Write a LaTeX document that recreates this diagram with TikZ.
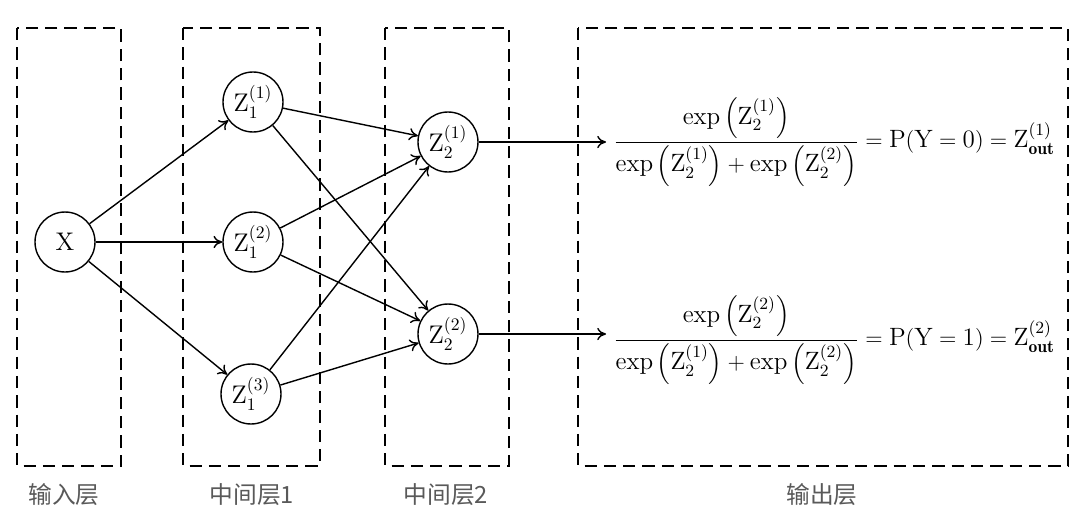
\documentclass[tikz,border=0pt]{standalone}
\usepackage{amsmath}
\usepackage{graphicx}
\usepackage{fontspec}
\newfontfamily\cjk{Noto Sans CJK SC}
\usetikzlibrary{arrows.meta}
\newcommand{\ex}[1]{\exp\,\Bigl(\mathrm{Z}_2^{(#1)}\Bigr)}
\tikzset{
  layerbox/.style={draw, line width=1.4pt, dash pattern=on 7pt off 4pt},
  neuron/.style={draw, circle, line width=0.8pt, minimum size=1.2cm, inner sep=0pt, font=\fontsize{14.5}{17}\selectfont},
  conn/.style={line width=0.8pt, -{To[length=5pt,width=7pt]}},
  formula/.style={inner sep=4pt, font=\fontsize{13.2}{16}\selectfont},
  layerlabel/.style={font=\cjk\fontsize{13.5}{16}\selectfont, text=black!65}
}
\begin{document}
\begin{tikzpicture}[x=0.02cm,y=-0.02cm]
\useasboundingbox[fill=white] (0,0) rectangle (1080,521);
\draw[layerbox] (17,28) rectangle (121,466);
\draw[layerbox] (183,28) rectangle (320,466);
\draw[layerbox] (385,28) rectangle (509,466);
\draw[layerbox] (578,28) rectangle (1068,466);

\node[neuron] (x) at (65,242) {$\mathrm{X}$};
\node[neuron] (z11) at (253,102) {$\mathrm{Z}_1^{(1)}$};
\node[neuron] (z12) at (253,242) {$\mathrm{Z}_1^{(2)}$};
\node[neuron] (z13) at (251,394) {$\mathrm{Z}_1^{(3)}$};
\node[neuron] (z21) at (448,142) {$\mathrm{Z}_2^{(1)}$};
\node[neuron] (z22) at (448,334) {$\mathrm{Z}_2^{(2)}$};

\node[formula, anchor=west] (f1) at (606,142) {\scalebox{1.08}{$\dfrac{\ex{1}}{\ex{1}+\ex{2}}=\mathrm{P(Y=0)}=\mathrm{Z}_{\mathbf{out}}^{(1)}$}};
\node[formula, anchor=west] (f2) at (606,340) {\scalebox{1.08}{$\dfrac{\ex{2}}{\ex{1}+\ex{2}}=\mathrm{P(Y=1)}=\mathrm{Z}_{\mathbf{out}}^{(2)}$}};

\draw[conn] (x) -- (z11);
\draw[conn] (x) -- (z12);
\draw[conn] (x) -- (z13);
\foreach \a in {z11,z12,z13}{
  \draw[conn] (\a) -- (z21);
  \draw[conn] (\a) -- (z22);
}
\draw[conn] (z21.east) -- (f1.west |- z21.east);
\draw[conn] (z22.east) -- (f2.west |- z22.east);

\node[layerlabel] (l1) at (64,495) {输入层};
\node[layerlabel] (l2) at (252,495) {中间层1};
\node[layerlabel] (l3) at (446,495) {中间层2};
\node[layerlabel] (l4) at (822,495) {输出层};
\end{tikzpicture}
\end{document}
